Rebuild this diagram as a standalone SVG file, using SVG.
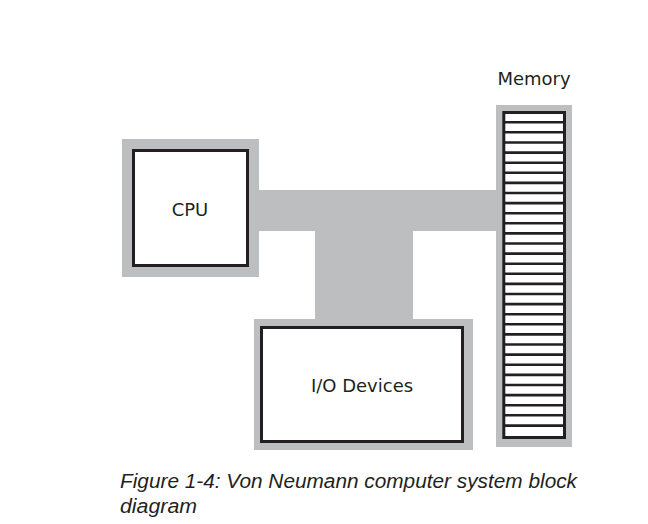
<svg xmlns="http://www.w3.org/2000/svg" width="648" height="524" viewBox="0 0 648 524">
<style>
.halo{fill:#bdbec0}
.box{fill:#ffffff;stroke:#231f20;stroke-width:3}
.rung{stroke:#231f20;stroke-width:2.6}
.lbl{font-family:"DejaVu Sans","Liberation Sans",sans-serif;font-size:18px;fill:#231f20;text-anchor:middle}
.cap{font-family:"Liberation Sans",Arial,sans-serif;font-style:italic;font-size:20px;fill:#231f20}
</style>
<rect width="648" height="524" fill="#ffffff"/>
<g id="connectors">
<rect class="halo" x="258" y="190" width="239" height="41"/>
<rect class="halo" x="315" y="230" width="98" height="90"/>
</g>
<g id="cpu">
<rect class="halo" x="122" y="139" width="137" height="138"/>
<rect class="box" x="133.5" y="150.5" width="114" height="115"/>
<text class="lbl" x="190" y="216">CPU</text>
</g>
<g id="io">
<rect class="halo" x="254" y="319" width="219" height="131"/>
<rect class="box" x="261.5" y="327.5" width="201" height="114"/>
<text class="lbl" x="362" y="392">I/O Devices</text>
</g>
<g id="memory">
<rect class="halo" x="496" y="105" width="76" height="342"/>
<rect class="box" x="503.8" y="112.5" width="60.7" height="325"/>
<g class="rung">
<line x1="504" y1="122.2" x2="564" y2="122.2"/>
<line x1="504" y1="132.3" x2="564" y2="132.3"/>
<line x1="504" y1="142.5" x2="564" y2="142.5"/>
<line x1="504" y1="152.6" x2="564" y2="152.6"/>
<line x1="504" y1="162.7" x2="564" y2="162.7"/>
<line x1="504" y1="172.8" x2="564" y2="172.8"/>
<line x1="504" y1="182.9" x2="564" y2="182.9"/>
<line x1="504" y1="193.0" x2="564" y2="193.0"/>
<line x1="504" y1="203.1" x2="564" y2="203.1"/>
<line x1="504" y1="213.2" x2="564" y2="213.2"/>
<line x1="504" y1="223.3" x2="564" y2="223.3"/>
<line x1="504" y1="233.4" x2="564" y2="233.4"/>
<line x1="504" y1="243.5" x2="564" y2="243.5"/>
<line x1="504" y1="253.6" x2="564" y2="253.6"/>
<line x1="504" y1="263.7" x2="564" y2="263.7"/>
<line x1="504" y1="273.8" x2="564" y2="273.8"/>
<line x1="504" y1="283.9" x2="564" y2="283.9"/>
<line x1="504" y1="294.0" x2="564" y2="294.0"/>
<line x1="504" y1="304.1" x2="564" y2="304.1"/>
<line x1="504" y1="314.2" x2="564" y2="314.2"/>
<line x1="504" y1="324.3" x2="564" y2="324.3"/>
<line x1="504" y1="334.4" x2="564" y2="334.4"/>
<line x1="504" y1="344.5" x2="564" y2="344.5"/>
<line x1="504" y1="354.6" x2="564" y2="354.6"/>
<line x1="504" y1="364.8" x2="564" y2="364.8"/>
<line x1="504" y1="374.9" x2="564" y2="374.9"/>
<line x1="504" y1="385.0" x2="564" y2="385.0"/>
<line x1="504" y1="395.1" x2="564" y2="395.1"/>
<line x1="504" y1="405.2" x2="564" y2="405.2"/>
<line x1="504" y1="415.3" x2="564" y2="415.3"/>
<line x1="504" y1="425.6" x2="564" y2="425.6"/>
</g>
<text class="lbl" x="534" y="85">Memory</text>
</g>
<g id="caption">
<text class="cap" x="120" y="488" textLength="457" lengthAdjust="spacingAndGlyphs">Figure 1-4: Von Neumann computer system block</text>
<text class="cap" x="120" y="513" textLength="77" lengthAdjust="spacingAndGlyphs">diagram</text>
</g>
</svg>
